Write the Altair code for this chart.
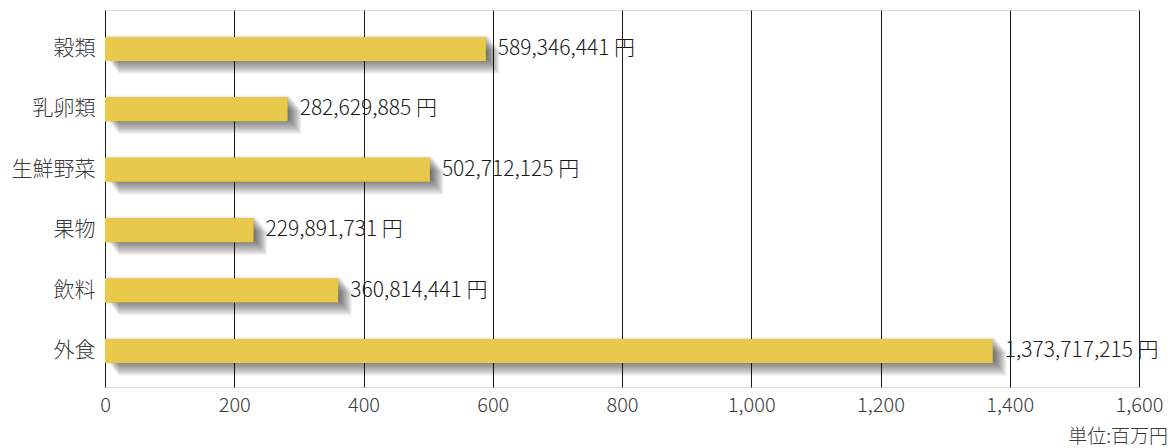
import altair as alt
import pandas as pd

categories = ["穀類", "乳卵類", "生鮮野菜", "果物", "飲料", "外食"]
values_yen = [589346441, 282629885, 502712125, 229891731, 360814441, 1373717215]
x_ticks = [0, 200, 400, 600, 800, 1000, 1200, 1400, 1600]
unit_label = "単位:百万円"

df = pd.DataFrame({
    "cat": categories,
    "val": [v / 1e6 for v in values_yen],
    "label": [f"{v:,} 円" for v in values_yen],
})

FONT = "Noto Sans CJK JP"
W, H = 1034, 377
BAR = 24

xscale = alt.Scale(domain=[0, 1600], nice=False, zero=True)
yscale = alt.Scale(domain=categories, paddingInner=0, paddingOuter=0.121, align=0.6)

base = alt.Chart(df)

xenc = alt.X("val:Q", scale=xscale,
             axis=alt.Axis(values=x_ticks, format=",d", grid=True, gridColor="#1a1a1a",
                           gridWidth=1, domain=False, ticks=False, labelFont=FONT,
                           labelFontSize=20, labelColor="#3a3a3a", labelPadding=8,
                           labelFontWeight=300, title=None, labelFlush=False))
yenc = alt.Y("cat:N", scale=yscale, sort=categories,
             axis=alt.Axis(domain=False, ticks=False, labelFont=FONT, labelFontSize=21,
                           labelFontWeight=300, labelColor="#3a3a3a", labelPadding=10,
                           title=None, grid=False))

# soft drop shadow: stacked translucent copies shifted progressively down and right
layers = []
for k in range(1, 17):
    layers.append(
        base.mark_bar(color="black", opacity=0.045, size=BAR,
                      xOffset=1 + k * 0.8, x2Offset=4 + k * 0.4,
                      yOffset=k - 3, y2Offset=k - 3)
        .encode(x=alt.X("val:Q", scale=xscale), y=alt.Y("cat:N", scale=yscale, sort=categories))
    )

bars = base.mark_bar(color="#E9C94B", size=BAR).encode(x=xenc, y=yenc)
text = base.mark_text(align="left", baseline="middle", dx=12, font=FONT, fontSize=21,
                      fontWeight=300, color="#1a1a1a").encode(
    x=alt.X("val:Q", scale=xscale), y=alt.Y("cat:N", scale=yscale, sort=categories),
    text="label:N")

unit = alt.Chart(pd.DataFrame({"t": [unit_label]})).mark_text(
    align="right", baseline="middle", font=FONT, fontSize=19, fontWeight=300, color="#3a3a3a"
).encode(x=alt.value(W + 29), y=alt.value(H + 50), text="t:N")

chart = alt.layer(bars, *layers, bars, text, unit).properties(
    width=W, height=H,
    padding={"left": 105, "top": 10, "right": 37, "bottom": 61},
    autosize=alt.AutoSizeParams(type="none"),
).configure_view(stroke="#555555", strokeWidth=1.2).configure(background="white")

chart.save("out.html", embed_options={"renderer": "svg", "actions": False})
